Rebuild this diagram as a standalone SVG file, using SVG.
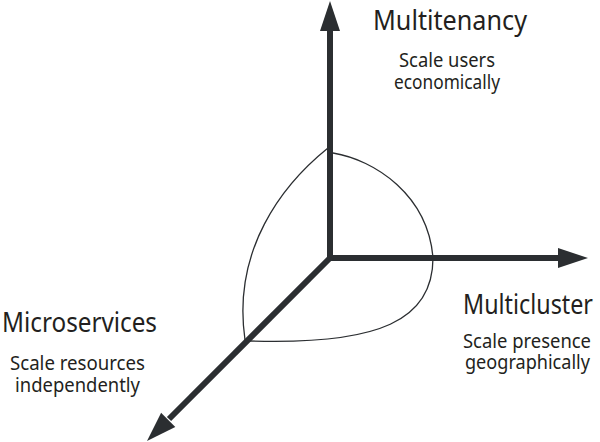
<svg xmlns="http://www.w3.org/2000/svg" width="600" height="442" viewBox="0 0 600 442">
<style>
.axis{stroke:#2b2e31;stroke-width:6;fill:none}
.head{fill:#2b2e31}
.curve{stroke:#2b2e31;stroke-width:1.3;fill:none}
.title{font-family:"Noto Sans","Open Sans",sans-serif;font-size:27px;fill:#231f20;text-anchor:middle}
.sub{font-family:"Noto Sans","Open Sans",sans-serif;font-size:20px;fill:#231f20;text-anchor:middle}
</style>
<rect width="600" height="442" fill="#ffffff"/>
<g id="surface">
<path class="curve" d="M333,153 C375,160 428,195 433,258"/>
<path class="curve" d="M433,258 C433,320 380,345 250,341"/>
<path class="curve" d="M328,148 C282,185 232,250 245,340"/>
</g>
<g id="connectors">
<line class="axis" x1="330" y1="261" x2="330" y2="30"/>
<polygon class="head" points="330,1 320,31 340,31"/>
<line class="axis" x1="327" y1="258" x2="559" y2="258"/>
<polygon class="head" points="588,258 558,248 558,268"/>
<line class="axis" x1="331" y1="257" x2="169" y2="419"/>
<polygon class="head" points="147,441 175.3,426.9 161.1,412.7"/>
</g>
<g id="multitenancy">
<text class="title" x="450" y="30" textLength="154" lengthAdjust="spacingAndGlyphs">Multitenancy</text>
<text class="sub" x="447" y="67" textLength="96" lengthAdjust="spacingAndGlyphs">Scale users</text>
<text class="sub" x="447" y="89" textLength="106" lengthAdjust="spacingAndGlyphs">economically</text>
</g>
<g id="microservices">
<text class="title" x="79.5" y="332" textLength="155" lengthAdjust="spacingAndGlyphs">Microservices</text>
<text class="sub" x="77.5" y="370" textLength="135" lengthAdjust="spacingAndGlyphs">Scale resources</text>
<text class="sub" x="77.5" y="392" textLength="125" lengthAdjust="spacingAndGlyphs">independently</text>
</g>
<g id="multicluster">
<text class="title" x="528" y="314" textLength="130" lengthAdjust="spacingAndGlyphs">Multicluster</text>
<text class="sub" x="527" y="348" textLength="128" lengthAdjust="spacingAndGlyphs">Scale presence</text>
<text class="sub" x="527.5" y="369" textLength="125" lengthAdjust="spacingAndGlyphs">geographically</text>
</g>
</svg>
